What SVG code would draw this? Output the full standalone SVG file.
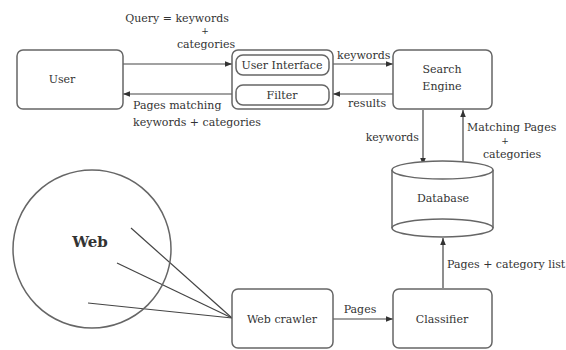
<svg xmlns="http://www.w3.org/2000/svg" width="566" height="350" viewBox="0 0 566 350">
<defs>
<marker id="ah" viewBox="0 0 10 10" refX="10" refY="5" markerWidth="7" markerHeight="7" orient="auto" markerUnits="userSpaceOnUse">
<path d="M0,1 L10,5 L0,9 z" fill="#333"/>
</marker>
<style>
.box{fill:#fff;stroke:#666;stroke-width:1.5}
.ln{fill:none;stroke:#444;stroke-width:1.2}
.t{font-family:'DejaVu Serif','Liberation Serif',serif;font-size:11px;fill:#333}
.c{text-anchor:middle}
.p{font-size:9px}
</style>
</defs>
<rect width="566" height="350" fill="#fff"/>
<g id="connectors">
<line class="ln" x1="123" y1="64" x2="232" y2="64" marker-end="url(#ah)"/>
<line class="ln" x1="232" y1="94" x2="123" y2="94" marker-end="url(#ah)"/>
<line class="ln" x1="333" y1="64" x2="393" y2="64" marker-end="url(#ah)"/>
<line class="ln" x1="393" y1="94" x2="333" y2="94" marker-end="url(#ah)"/>
<line class="ln" x1="423" y1="110" x2="423" y2="165" marker-end="url(#ah)"/>
<line class="ln" x1="463" y1="170" x2="463" y2="110" marker-end="url(#ah)"/>
<line class="ln" x1="443" y1="288" x2="443" y2="238" marker-end="url(#ah)"/>
<line class="ln" x1="333" y1="319" x2="393" y2="319" marker-end="url(#ah)"/>
<line class="ln" x1="131" y1="228" x2="232" y2="318"/>
<line class="ln" x1="117" y1="263" x2="232" y2="318"/>
<line class="ln" x1="88" y1="303" x2="232" y2="318"/>
<text class="t c" x="177" y="22">Query = keywords</text>
<text class="t c p" x="205" y="34">+</text>
<text class="t c" x="206" y="48">categories</text>
<text class="t" x="133" y="109">Pages matching</text>
<text class="t" x="133" y="126">keywords + categories</text>
<text class="t" x="337" y="59">keywords</text>
<text class="t" x="348" y="107">results</text>
<text class="t" x="419" y="141" text-anchor="end">keywords</text>
<text class="t" x="467" y="131">Matching Pages</text>
<text class="t c p" x="505" y="144">+</text>
<text class="t c" x="512" y="158">categories</text>
<text class="t" x="447" y="268">Pages + category list</text>
<text class="t c" x="360" y="313">Pages</text>
</g>
<g id="user">
<rect class="box" x="17" y="50" width="106" height="59" rx="6"/>
<text class="t c" x="62" y="83">User</text>
</g>
<g id="interface">
<rect class="box" x="232" y="50" width="101" height="59" rx="6"/>
<g id="user-interface">
<rect class="box" x="236" y="55" width="93" height="20" rx="7"/>
<text class="t c" x="282" y="69">User Interface</text>
</g>
<g id="filter">
<rect class="box" x="236" y="85" width="93" height="20" rx="7"/>
<text class="t c" x="282" y="99">Filter</text>
</g>
</g>
<g id="search-engine">
<rect class="box" x="393" y="50" width="99" height="59" rx="6"/>
<text class="t c" x="442" y="73">Search</text>
<text class="t c" x="442" y="90">Engine</text>
</g>
<g id="database">
<path class="box" d="M392,170 L392,228 A50.5,9 0 0 0 493,228 L493,170"/>
<ellipse class="box" cx="442.5" cy="170" rx="50.5" ry="9" fill="none"/>
<path d="M392,228 A50.5,9 0 0 1 493,228" fill="none" stroke="#666" stroke-width="1.5"/>
<text class="t c" x="443" y="202">Database</text>
</g>
<g id="web">
<circle cx="92" cy="249" r="79" fill="none" stroke="#666" stroke-width="1.5"/>
<text class="t c" x="90" y="247" style="font-weight:bold;font-size:15px">Web</text>
</g>
<g id="web-crawler">
<rect class="box" x="232" y="289" width="101" height="59" rx="6"/>
<text class="t c" x="282" y="323">Web crawler</text>
</g>
<g id="classifier">
<rect class="box" x="393" y="289" width="99" height="59" rx="6"/>
<text class="t c" x="442" y="323">Classifier</text>
</g>
</svg>
